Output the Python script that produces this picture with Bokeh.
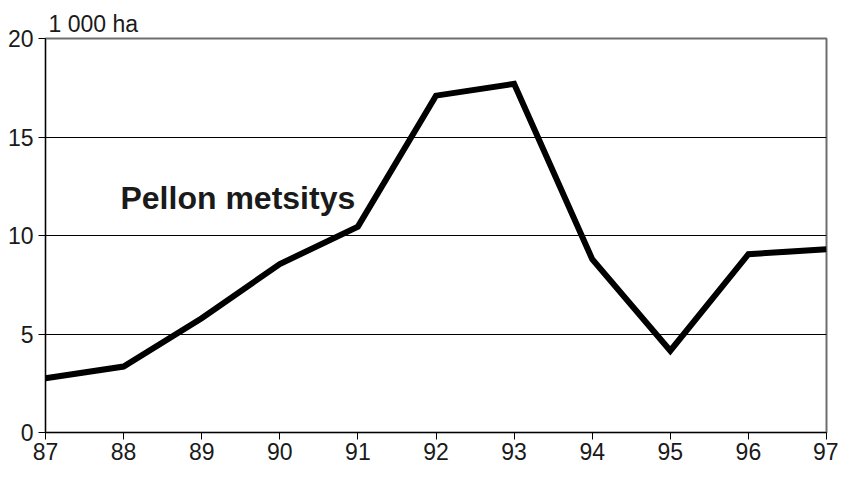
from bokeh.plotting import figure
from bokeh.models import Label, FixedTicker, Range1d
from bokeh.embed import file_html
from bokeh.resources import INLINE

years = [87, 88, 89, 90, 91, 92, 93, 94, 95, 96, 97]
values = [2.75, 3.35, 5.8, 8.55, 10.45, 17.1, 17.7, 8.8, 4.15, 9.05, 9.3]
x_ticks = [87, 88, 89, 90, 91, 92, 93, 94, 95, 96, 97]
y_ticks = [0, 5, 10, 15, 20]
unit_label = "1 000 ha"
series_label = "Pellon metsitys"

FONT = "Liberation Sans"

p = figure(width=838, height=467, output_backend="svg", toolbar_location=None,
           x_range=Range1d(87, 97), y_range=Range1d(0, 20),
           min_border_left=45, min_border_right=12, min_border_top=38, min_border_bottom=35)
p.background_fill_color = "white"
p.border_fill_color = "white"
p.outline_line_color = "#6e6e6e"
p.outline_line_width = 2

p.title.text = unit_label
p.title.text_font = FONT
p.title.text_font_style = "normal"
p.title.text_font_size = "23px"
p.title.text_color = "#1a1a1a"
p.title.align = "left"
p.title.offset = 3
p.title.standoff = 4

p.xaxis.ticker = FixedTicker(ticks=x_ticks)
p.yaxis.ticker = FixedTicker(ticks=y_ticks)
p.xgrid.visible = False
p.ygrid.ticker = FixedTicker(ticks=[5, 10, 15])
p.ygrid.grid_line_color = "black"
p.ygrid.grid_line_width = 1

for ax in (p.xaxis[0], p.yaxis[0]):
    ax.axis_line_color = "black"
    ax.axis_line_width = 1
    ax.major_tick_line_color = "black"
    ax.major_tick_in = 0
    ax.major_tick_out = 7
    ax.minor_tick_line_color = None
    ax.major_label_text_font = FONT
    ax.major_label_text_font_size = "23px"
    ax.major_label_text_color = "#1a1a1a"
p.xaxis.major_label_standoff = 3
p.yaxis.major_label_standoff = 5

p.line(years, values, line_color="black", line_width=6, line_join="miter")

p.add_layout(Label(x=87.96, y=11.88, text=series_label,
                   text_font=FONT, text_font_style="bold",
                   text_font_size="32px", text_color="#1a1a1a",
                   text_baseline="alphabetic"))

open("out.html", "w").write(file_html(p, INLINE))
